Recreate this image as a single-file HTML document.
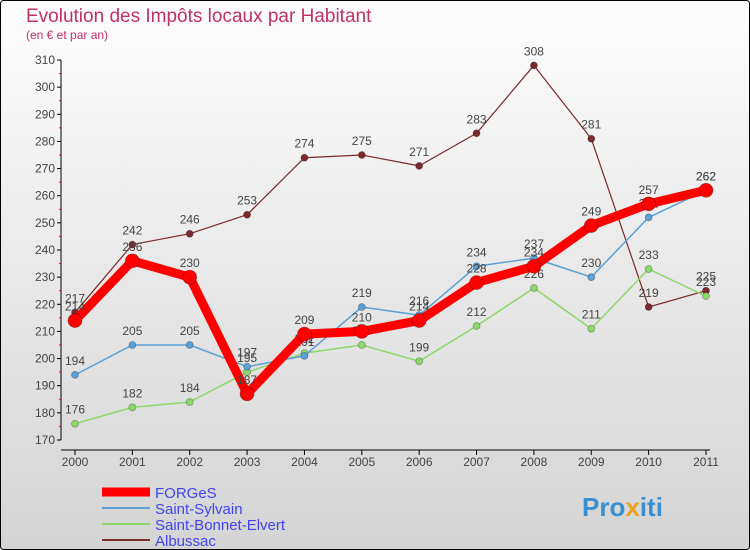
<!DOCTYPE html>
<html><head><meta charset="utf-8"><style>
body{margin:0;width:750px;height:550px;overflow:hidden;font-family:"Liberation Sans",sans-serif}
svg{display:block}
</style></head><body>
<svg id="c" width="750" height="550" xmlns="http://www.w3.org/2000/svg">
<defs><linearGradient id="bg" x1="0" y1="0" x2="0" y2="1"><stop offset="0" stop-color="#fdfdfd"/><stop offset="1" stop-color="#d4d4d4"/></linearGradient></defs>
<rect x="0.5" y="0.5" width="749" height="549" rx="3" fill="url(#bg)" stroke="#000"/>
<text x="26" y="22" font-size="19" fill="#c0306a">Evolution des Impôts locaux par Habitant</text>
<text x="26" y="39" font-size="12" fill="#c0306a">(en € et par an)</text>
<g id="axes"></g><g id="series"></g>
<g>
<line x1="102" y1="492" x2="150" y2="492" stroke="#f00" stroke-width="9"/>
<text x="155" y="498" font-size="15" fill="#4444ee">FORGeS</text>
<line x1="102" y1="508" x2="150" y2="508" stroke="#5ba0d6" stroke-width="2"/>
<text x="155" y="514" font-size="15" fill="#4444ee">Saint-Sylvain</text>
<line x1="102" y1="524" x2="150" y2="524" stroke="#8ed86a" stroke-width="2"/>
<text x="155" y="530" font-size="15" fill="#4444ee">Saint-Bonnet-Elvert</text>
<line x1="102" y1="540" x2="150" y2="540" stroke="#7a2a2a" stroke-width="2"/>
<text x="155" y="546" font-size="15" fill="#4444ee">Albussac</text>
</g>
<text x="582" y="516" font-size="26" font-weight="bold" fill="#3a8fd0">Pro<tspan fill="#f0a020">x</tspan>iti</text>
</svg>
<script>
const years=["2000","2001","2002","2003","2004","2005","2006","2007","2008","2009","2010","2011"];
const yTicks=[170,180,190,200,210,220,230,240,250,260,270,280,290,300,310];
const forges=[214,236,230,187,209,210,214,228,234,249,257,262];
const saintSylvain=[194,205,205,197,201,219,216,234,237,230,252,262];
const saintBonnet=[176,182,184,195,202,205,199,212,226,211,233,223];
const albussac=[217,242,246,253,274,275,271,283,308,281,219,225];
const NS="http://www.w3.org/2000/svg";
const x=i=>75+i*(706-75)/(years.length-1);
const y=v=>440-(v-170)*380/140;
function mk(t,a,p){const e=document.createElementNS(NS,t);for(const k in a)e.setAttribute(k,a[k]);p.appendChild(e);return e;}
const ax=document.getElementById('axes');
const yl=mk('line',{x1:61,y1:60,x2:61,y2:440,stroke:'#000'},ax);


yTicks.forEach(v=>{
 mk('line',{x1:57,y1:y(v),x2:61,y2:y(v),stroke:'#000'},ax);
 if(v<310) mk('line',{x1:59,y1:y(v+5),x2:61,y2:y(v+5),stroke:'#f00'},ax);
 const t=mk('text',{x:55,y:y(v)+4,'font-size':12,fill:'#444','text-anchor':'end'},ax);t.textContent=v;
 
 
});
const xl=mk('line',{x1:61,y1:450,x2:710,y2:450,stroke:'#000'},ax);


years.forEach((yr,i)=>{
 mk('line',{x1:x(i),y1:450,x2:x(i),y2:455,stroke:'#000'},ax);
 const t=mk('text',{x:x(i),y:466,'font-size':12,fill:'#444','text-anchor':'middle'},ax);t.textContent=yr;
 
 
});
const sg=document.getElementById('series');
function series(d,color,w,r,name){
 const g=mk('g',{},sg);
 
 
 const pl=mk('polyline',{points:d.map((v,i)=>x(i)+','+y(v)).join(' '),fill:'none',stroke:color,'stroke-width':w,'stroke-linejoin':'round'},g);
 
 
 d.forEach((v,i)=>{
  const c=mk('circle',{cx:x(i),cy:y(v),r:r,fill:color,stroke:'rgba(0,0,0,0.3)','stroke-width':0.8},g);
  
  
  const t=mk('text',{x:x(i),y:y(v)-10,'font-size':12,fill:'#444','text-anchor':'middle'},g);t.textContent=v;
  
  
 });
}
series(albussac,'#7a2a2a',1.2,3.5,'albussac');
series(saintBonnet,'#8ed86a',1.5,3.5,'saint-bonnet-elvert');
series(saintSylvain,'#5ba0d6',1.5,3.5,'saint-sylvain');
series(forges,'#f00',9,7,'forges');
</script>
</body></html>
